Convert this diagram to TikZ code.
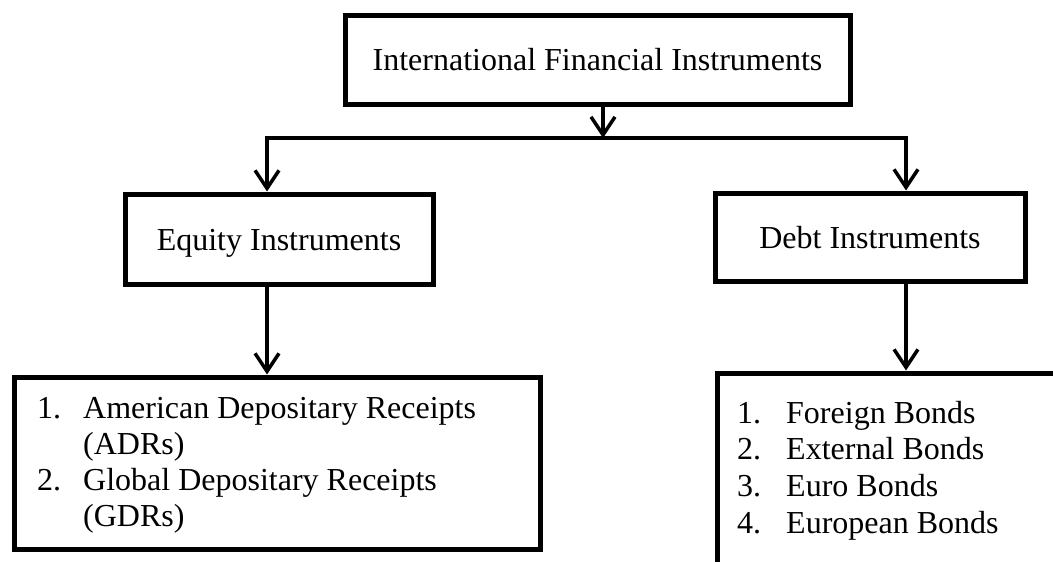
\documentclass[tikz,border=0pt]{standalone}
\usepackage{fontspec}
\setmainfont{Liberation Serif}
\usetikzlibrary{arrows.meta}
\begin{document}
\begin{tikzpicture}[x=1pt,y=-1pt,
  box/.style={draw, line width=5pt, inner sep=0pt,
    font=\fontsize{32}{36.8}\selectfont, text height=22pt, text depth=0pt},
  barb/.tip={Straight Barb[length=18pt,width=24pt]},
  conn/.style={line width=3.5pt, -barb},
  txt/.style={font=\fontsize{32}{36.8}\selectfont, inner sep=0pt, anchor=base west},
]
\useasboundingbox (0,0) rectangle (1053,562);
\clip (0,0) rectangle (1053,562);

% boxes
\node[box, minimum width=505pt, minimum height=89pt] (top) at (597.5,59.5) {International Financial Instruments};
\node[box, minimum width=308pt, minimum height=90pt] (eq) at (279,239) {Equity Instruments};
\node[box, minimum width=310pt, minimum height=88pt] (debt) at (870,237) {Debt Instruments};
\node[box, minimum width=526pt, minimum height=172pt] (llist) at (277,463) {};
\node[box, minimum width=383pt, minimum height=247pt] (rlist) at (908.5,496.5) {};

% connector coordinates
\coordinate (L) at (267,138);
\coordinate (M) at (603,138);
\coordinate (R) at (906,138);

% connectors
\draw[conn] (M |- top.south) -- (M);
\draw[line width=3.5pt, barb-barb] (L |- eq.north) -- (L) -- (R) -- (R |- debt.north);
\draw[conn] (L |- eq.south) -- (L |- llist.north);
\draw[conn] (R |- debt.south) -- (R |- rlist.north);

% left list text
\node[txt] (l1n) at (37,418) {1.};
\node[txt] (l1a) at (83,418) {American Depositary Receipts};
\node[txt] (l1b) at (83,454) {(ADRs)};
\node[txt] (l2n) at (37,490) {2.};
\node[txt] (l2a) at (83,490) {Global Depositary Receipts};
\node[txt] (l2b) at (83,526) {(GDRs)};

% right list text
\node[txt] (r1n) at (737,423) {1.};
\node[txt] (r1) at (786,423) {Foreign Bonds};
\node[txt] (r2n) at (737,459.7) {2.};
\node[txt] (r2) at (786,459.7) {External Bonds};
\node[txt] (r3n) at (737,496.4) {3.};
\node[txt] (r3) at (786,496.4) {Euro Bonds};
\node[txt] (r4n) at (737,533.1) {4.};
\node[txt] (r4) at (786,533.1) {European Bonds};
\end{tikzpicture}
\end{document}
